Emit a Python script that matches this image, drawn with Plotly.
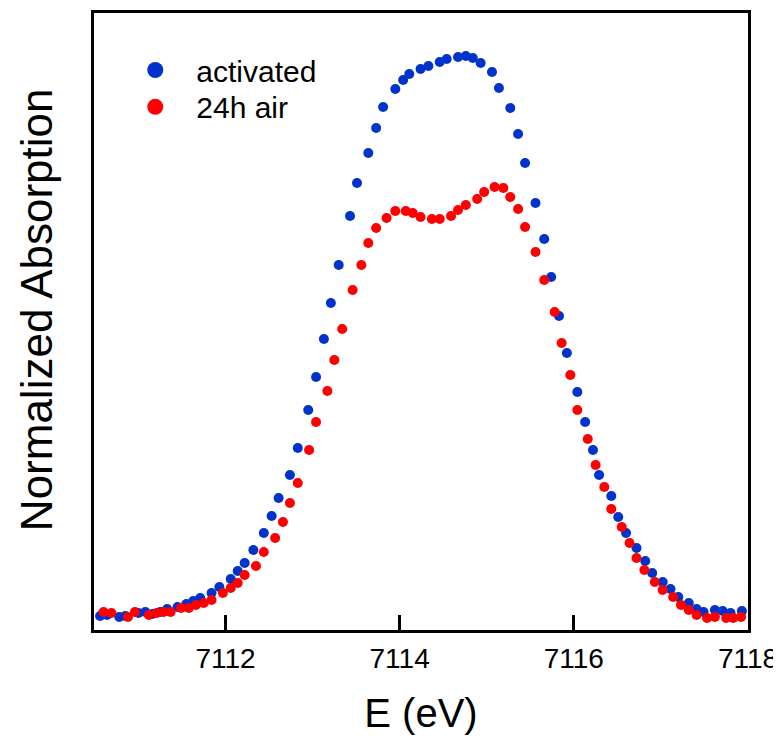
import plotly.graph_objects as go

# activated sample
e_act = [7110.56, 7110.64, 7110.78, 7110.85, 7111.00, 7111.08, 7111.16, 7111.25, 7111.33, 7111.45,
         7111.55, 7111.63, 7111.71, 7111.84, 7111.93, 7112.06, 7112.14, 7112.22, 7112.32, 7112.44,
         7112.53, 7112.61, 7112.74, 7112.83, 7112.95, 7113.04, 7113.13, 7113.21, 7113.30, 7113.43,
         7113.51, 7113.64, 7113.73, 7113.81, 7113.95, 7114.04, 7114.11, 7114.24, 7114.33, 7114.46,
         7114.54, 7114.67, 7114.76, 7114.84, 7114.93, 7115.06, 7115.14, 7115.27, 7115.36, 7115.44,
         7115.56, 7115.66, 7115.74, 7115.83, 7115.92, 7116.04, 7116.13, 7116.22, 7116.29, 7116.43,
         7116.51, 7116.60, 7116.72, 7116.82, 7116.90, 7117.02, 7117.11, 7117.20, 7117.32, 7117.41,
         7117.49, 7117.62, 7117.71, 7117.80, 7117.93]
a_act = [0.0000, 0.0002, -0.0002, 0.0000, 0.0006, 0.0008, 0.0004, 0.0008, 0.0014, 0.0018,
         0.0024, 0.0030, 0.0036, 0.0046, 0.0058, 0.0074, 0.0090, 0.0106, 0.0132, 0.0166,
         0.0200, 0.0236, 0.0282, 0.0336, 0.0412, 0.0478, 0.0554, 0.0626, 0.0702, 0.0800,
         0.0866, 0.0926, 0.0976, 0.1018, 0.1054, 0.1072, 0.1084, 0.1094, 0.1100, 0.1108,
         0.1114, 0.1118, 0.1120, 0.1116, 0.1106, 0.1088, 0.1056, 0.1016, 0.0964, 0.0906,
         0.0826, 0.0754, 0.0678, 0.0600, 0.0526, 0.0448, 0.0388, 0.0332, 0.0282, 0.0240,
         0.0198, 0.0166, 0.0136, 0.0110, 0.0086, 0.0068, 0.0054, 0.0038, 0.0026, 0.0014,
         0.0008, 0.0012, 0.0010, 0.0006, 0.0010]

# after 24 h in air
e_air = [7110.60, 7110.69, 7110.88, 7110.96, 7111.12, 7111.21, 7111.29, 7111.37, 7111.49, 7111.58,
         7111.66, 7111.75, 7111.84, 7111.97, 7112.06, 7112.14, 7112.22, 7112.35, 7112.44, 7112.57,
         7112.66, 7112.74, 7112.83, 7112.96, 7113.04, 7113.17, 7113.25, 7113.34, 7113.46, 7113.56,
         7113.64, 7113.73, 7113.85, 7113.95, 7114.07, 7114.15, 7114.24, 7114.37, 7114.46, 7114.59,
         7114.67, 7114.76, 7114.89, 7114.97, 7115.09, 7115.19, 7115.27, 7115.36, 7115.44, 7115.56,
         7115.66, 7115.78, 7115.86, 7115.96, 7116.04, 7116.16, 7116.25, 7116.35, 7116.43, 7116.55,
         7116.64, 7116.72, 7116.81, 7116.93, 7117.02, 7117.14, 7117.23, 7117.32, 7117.41, 7117.53,
         7117.62, 7117.75, 7117.83, 7117.92]
a_air = [0.0008, 0.0006, -0.0002, 0.0008, 0.0002, 0.0006, 0.0008, 0.0008, 0.0016, 0.0016,
         0.0022, 0.0026, 0.0032, 0.0046, 0.0056, 0.0066, 0.0082, 0.0100, 0.0128, 0.0156,
         0.0188, 0.0226, 0.0266, 0.0332, 0.0388, 0.0450, 0.0512, 0.0574, 0.0652, 0.0702,
         0.0746, 0.0776, 0.0796, 0.0810, 0.0810, 0.0806, 0.0798, 0.0794, 0.0794, 0.0800,
         0.0812, 0.0822, 0.0834, 0.0848, 0.0858, 0.0856, 0.0838, 0.0814, 0.0778, 0.0728,
         0.0672, 0.0608, 0.0546, 0.0482, 0.0412, 0.0354, 0.0302, 0.0258, 0.0214, 0.0178,
         0.0146, 0.0116, 0.0092, 0.0068, 0.0052, 0.0038, 0.0022, 0.0012, 0.0002, -0.0004,
         -0.0002, -0.0004, -0.0004, -0.0002]

series_names = ["activated", "24h air"]
series_colors = ["#0033cc", "#ff0000"]

x_ticks = [7112, 7114, 7116, 7118]
x_range = [7110.49, 7118.0]
y_range = [-0.0028, 0.1206]

FONT = "Liberation Sans, Arial, Helvetica, sans-serif"

fig = go.Figure()
for xs, ys, nm, col in [(e_act, a_act, series_names[0], series_colors[0]),
                        (e_air, a_air, series_names[1], series_colors[1])]:
    fig.add_trace(go.Scatter(x=xs, y=ys, mode="markers", name=nm, legendgroup=nm,
                             showlegend=False, marker=dict(color=col, size=10)))
# legend entries (one legend box per entry, for exact spacing)
for nm, col, lg in zip(series_names, series_colors, ["legend", "legend2"]):
    fig.add_trace(go.Scatter(x=[None], y=[None], mode="markers", name=nm, legendgroup=nm,
                             showlegend=True, legend=lg, marker=dict(color=col, size=20)))

leg_common = dict(x=0.031, xanchor="left", yanchor="middle",
                  font=dict(size=30, family=FONT), bgcolor="rgba(0,0,0,0)",
                  itemsizing="trace", itemwidth=72)

# the page body adds an 8px margin, so the figure is 8px smaller than the window
fig.update_layout(
    width=773, height=734,
    margin=dict(l=86, r=33, t=5, b=112),
    paper_bgcolor="white", plot_bgcolor="white",
    font=dict(family=FONT, color="black"),
    showlegend=True,
    legend=dict(y=0.9076, **leg_common),
    legend2=dict(y=0.848, **leg_common),
    xaxis=dict(range=x_range, tickvals=x_ticks, ticktext=[str(t) for t in x_ticks],
               ticks="inside", ticklen=15, tickwidth=3, tickcolor="black",
               showline=True, linewidth=3, linecolor="black", mirror=True,
               showgrid=False, zeroline=False, automargin=False,
               tickfont=dict(size=28, family=FONT), ticklabelstandoff=1,
               ticklabeloverflow="allow",
               title=dict(text="E (eV)", font=dict(size=40, family=FONT), standoff=27)),
    yaxis=dict(range=y_range, showticklabels=False, ticks="",
               showline=True, linewidth=3, linecolor="black", mirror=True,
               showgrid=False, zeroline=False, automargin=False),
    annotations=[dict(text="Normalized Absorption", textangle=-90,
                      xref="paper", yref="paper", x=-0.0887, y=0.520,
                      xanchor="center", yanchor="middle", showarrow=False,
                      font=dict(size=44, family=FONT, color="black"))],
)

fig.write_html("out.html")
